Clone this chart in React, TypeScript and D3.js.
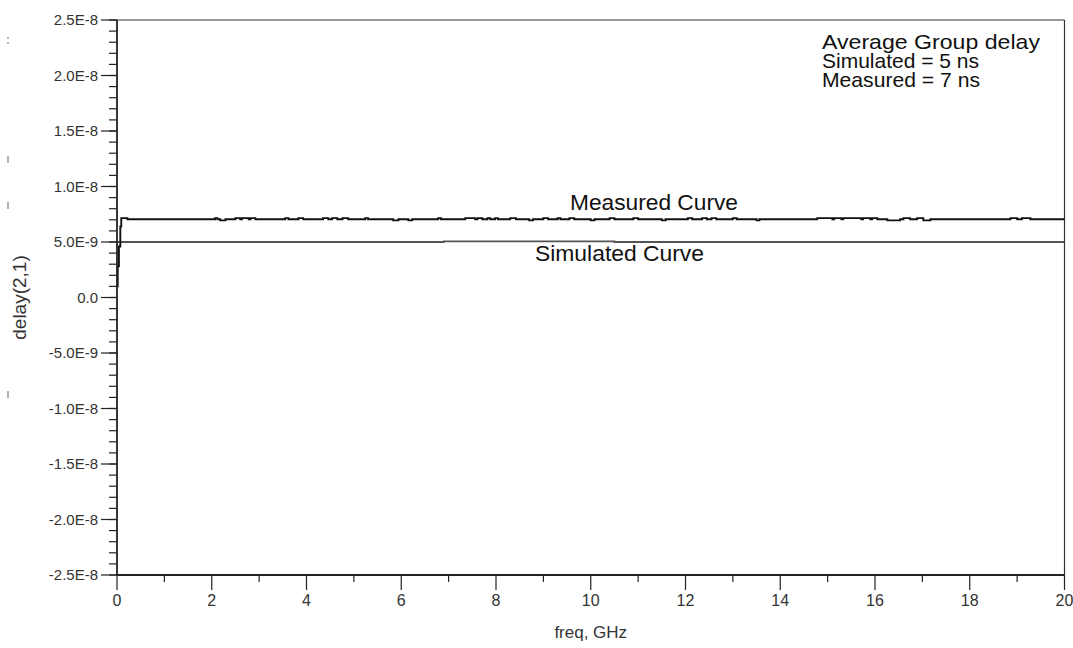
import React from "react";
import * as d3 from "d3";

// ---- data ----
const freqDomain: [number, number] = [0, 20];
const delayDomain: [number, number] = [-2.5e-8, 2.5e-8];
const xMajorTicks = [0, 2, 4, 6, 8, 10, 12, 14, 16, 18, 20];
const xMinorTicks = [1, 3, 5, 7, 9, 11, 13, 15, 17, 19];
const yMajorTicks = [-2.5e-8, -2.0e-8, -1.5e-8, -1.0e-8, -5.0e-9, 0, 5.0e-9, 1.0e-8, 1.5e-8, 2.0e-8, 2.5e-8];
const yTickLabels = ["-2.5E-8", "-2.0E-8", "-1.5E-8", "-1.0E-8", "-5.0E-9", "0.0", "5.0E-9", "1.0E-8", "1.5E-8", "2.0E-8", "2.5E-8"];
const yMinorStep = 1e-9;

const simulatedFreq = [0, 6.9, 10.5, 20];
const simulatedDelay = [5.0e-9, 5.05e-9, 5.0e-9, 5.0e-9];

const measuredFreq = [
  0, 0.015, 0.04, 0.07, 0.09, 0.22,
  2.07, 2.12, 2.18, 2.29, 2.5, 2.6, 2.64, 2.78, 2.82, 2.92,
  3.55, 3.62, 3.83, 3.93, 4.35, 4.46, 4.54, 4.65, 4.76, 4.88,
  5.24, 5.3, 5.83, 5.94, 6.15, 6.23, 6.78, 6.84,
  7.35, 7.56, 7.61, 7.71, 7.82, 7.88, 7.98, 8.04, 8.3, 8.42, 8.7, 8.78,
  9.0, 9.1, 9.3, 9.36, 9.55, 9.65, 10.0, 10.08, 10.4, 10.5, 10.9, 11.0,
  11.5, 11.58, 12.05, 12.14, 12.35, 12.45, 12.55, 12.65, 13.0, 13.08, 13.5, 13.56,
  14.78, 15.1, 15.14, 15.29, 15.33, 15.71, 15.75, 15.9, 15.94, 16.05,
  16.26, 16.53, 16.6, 16.74, 16.89, 17.02, 17.06, 17.17,
  18.86, 19.0, 19.1, 19.28, 20,
];
const measuredDelay = [
  1.0e-9, 2.8e-9, 4.6e-9, 6.4e-9, 7.15e-9, 7.05e-9,
  7.15e-9, 7.05e-9, 6.95e-9, 7.05e-9, 7.15e-9, 7.05e-9, 7.15e-9, 7.05e-9, 7.15e-9, 7.05e-9,
  7.15e-9, 7.05e-9, 7.15e-9, 7.05e-9, 7.15e-9, 7.05e-9, 7.15e-9, 7.05e-9, 7.15e-9, 7.05e-9,
  7.15e-9, 7.05e-9, 6.95e-9, 7.05e-9, 6.95e-9, 7.05e-9, 7.15e-9, 7.05e-9,
  7.15e-9, 7.05e-9, 7.15e-9, 7.05e-9, 7.15e-9, 7.05e-9, 7.15e-9, 7.05e-9, 7.15e-9, 7.05e-9, 6.95e-9, 7.05e-9,
  7.15e-9, 7.05e-9, 7.15e-9, 7.05e-9, 7.15e-9, 7.05e-9, 6.95e-9, 7.05e-9, 7.15e-9, 7.05e-9, 7.15e-9, 7.05e-9,
  6.95e-9, 7.05e-9, 7.15e-9, 7.05e-9, 7.15e-9, 7.05e-9, 7.15e-9, 7.05e-9, 7.15e-9, 7.05e-9, 6.95e-9, 7.05e-9,
  7.15e-9, 7.05e-9, 7.15e-9, 7.05e-9, 7.15e-9, 7.05e-9, 7.15e-9, 7.05e-9, 7.15e-9, 7.05e-9,
  6.95e-9, 7.05e-9, 7.15e-9, 7.05e-9, 7.15e-9, 6.95e-9, 6.95e-9, 7.05e-9,
  7.15e-9, 7.05e-9, 7.15e-9, 7.05e-9, 7.05e-9,
];

const xLabel = "freq, GHz";
const yLabel = "delay(2,1)";
const noteLines = ["Average Group delay", "Simulated = 5 ns", "Measured = 7 ns"];
const measuredLabel = "Measured Curve";
const simulatedLabel = "Simulated Curve";

// ---- layout ----
const W = 1073;
const H = 648;
const left = 117;
const right = 1064.5;
const top = 20;
const bottom = 575;
const noteWidths = [218, 157, 158];
const font = "'Liberation Sans', Arial, sans-serif";

export default function App() {
  const x = d3.scaleLinear().domain(freqDomain).range([left, right]);
  const y = d3.scaleLinear().domain(delayDomain).range([bottom, top]);

  const yMinor = d3.range(delayDomain[0], delayDomain[1] + yMinorStep / 2, yMinorStep);

  const line = d3
    .line<[number, number]>()
    .x((d) => x(d[0]))
    .y((d) => y(d[1]))
    .curve(d3.curveStepAfter);

  const simPts = simulatedFreq.map((f, i) => [f, simulatedDelay[i]] as [number, number]);
  const measPts = measuredFreq.map((f, i) => [f, measuredDelay[i]] as [number, number]);

  const axisColor = "#222";
  const textColor = "#333";

  return (
    <svg
      width={W}
      height={H}
      style={{ position: "absolute", left: 0, top: 0, background: "#fff" }}
      fontFamily={font}
    >
      <rect x={0} y={0} width={W} height={H} fill="#fff" />

      {/* stray marks at left edge */}
      <g stroke="#666" strokeWidth={1}>
        <line x1={8} y1={37} x2={8} y2={39} />
        <line x1={8} y1={42} x2={8} y2={44} />
        <line x1={8} y1={156} x2={8} y2={163} />
        <line x1={8} y1={202} x2={8} y2={209} />
        <line x1={8} y1={391} x2={8} y2={398} />
      </g>

      {/* frame top/right */}
      <line x1={left} y1={top} x2={right} y2={top} stroke="#333" strokeWidth={1.2} />
      <line x1={right} y1={top} x2={right} y2={bottom} stroke="#333" strokeWidth={1.2} />

      {/* curves */}
      <path d={line(simPts) || ""} fill="none" stroke="#555" strokeWidth={1.8} />
      <path d={line(measPts) || ""} fill="none" stroke="#111" strokeWidth={1.9} />

      {/* y axis */}
      <line x1={left} y1={top} x2={left} y2={bottom} stroke={axisColor} strokeWidth={1.8} />
      {yMinor.map((v, i) => (
        <line key={"ym" + i} x1={left - 8} x2={left} y1={y(v)} y2={y(v)} stroke={axisColor} strokeWidth={1.2} />
      ))}
      {yMajorTicks.map((v, i) => (
        <g key={"yM" + i}>
          <line x1={left - 16} x2={left} y1={y(v)} y2={y(v)} stroke={axisColor} strokeWidth={1.2} />
          <text x={left - 19} y={y(v)} dy="0.35em" textAnchor="end" fontSize={15} fill={textColor}>
            {yTickLabels[i]}
          </text>
        </g>
      ))}

      {/* x axis */}
      <line x1={left} y1={bottom} x2={right} y2={bottom} stroke={axisColor} strokeWidth={1.8} />
      {xMinorTicks.map((v, i) => (
        <line key={"xm" + i} x1={x(v)} x2={x(v)} y1={bottom} y2={bottom + 7} stroke={axisColor} strokeWidth={1.2} />
      ))}
      {xMajorTicks.map((v, i) => (
        <g key={"xM" + i}>
          <line x1={x(v)} x2={x(v)} y1={bottom} y2={bottom + 15} stroke={axisColor} strokeWidth={1.2} />
          <text x={x(v)} y={606} textAnchor="middle" fontSize={16} fill={textColor}>
            {String(v)}
          </text>
        </g>
      ))}

      {/* axis titles */}
      <text x={(left + right) / 2} y={638} textAnchor="middle" fontSize={17} fill={textColor}>
        {xLabel}
      </text>
      <text
        transform={`translate(26, ${y(0)}) rotate(-90)`}
        textAnchor="middle"
        fontSize={19}
        fill={textColor}
      >
        {yLabel}
      </text>

      {/* annotations */}
      {noteLines.map((t, i) => (
        <text
          key={"n" + i}
          x={822}
          y={49 + i * 19}
          fontSize={21}
          fill="#111"
          textLength={noteWidths[i]}
          lengthAdjust="spacingAndGlyphs"
        >
          {t}
        </text>
      ))}
      <text x={570} y={210} fontSize={22} fill="#111" textLength={168} lengthAdjust="spacingAndGlyphs">
        {measuredLabel}
      </text>
      <text x={535} y={261} fontSize={22} fill="#111" textLength={169} lengthAdjust="spacingAndGlyphs">
        {simulatedLabel}
      </text>
    </svg>
  );
}
